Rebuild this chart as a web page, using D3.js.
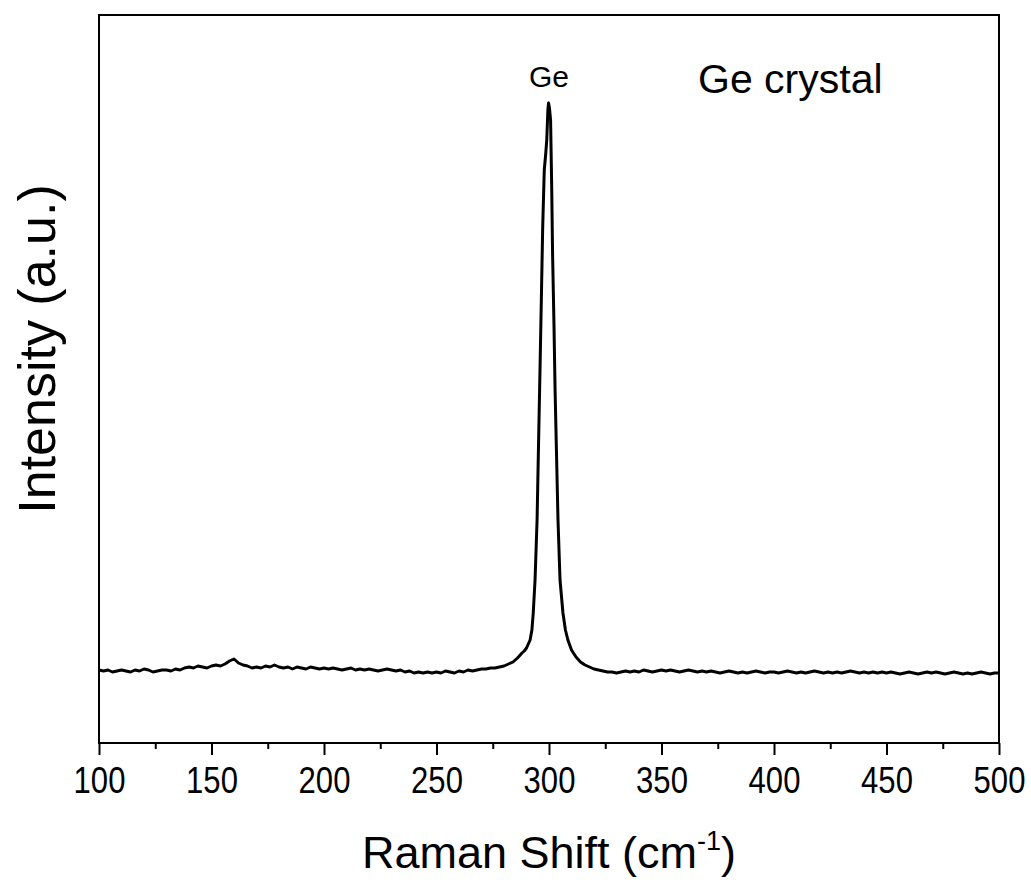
<!DOCTYPE html>
<html>
<head>
<meta charset="utf-8">
<script src="https://cdn.jsdelivr.net/npm/d3@7"></script>
<style>
  body { margin: 0; background: #fff; }
  svg text { font-family: "Liberation Sans", Arial, sans-serif; fill: #000; }
</style>
</head>
<body>
<svg class="main" width="1031" height="888"></svg>
<script>
// Raman spectrum of Ge crystal (intensity in a.u.)
var SHIFT = [
  100, 102, 104, 106, 108, 110, 112, 114, 116, 118, 120, 122, 124, 126, 128, 130, 132, 134, 136, 138,
  140, 142, 144, 146, 148, 150, 152, 154, 156, 158, 160, 162, 164, 166, 168, 170, 172, 174, 176, 178,
  180, 182, 184, 186, 188, 190, 192, 194, 196, 198, 200, 202, 204, 206, 208, 210, 212, 214, 216, 218,
  220, 222, 224, 226, 228, 230, 232, 234, 236, 238, 240, 242, 244, 246, 248, 250, 252, 254, 256, 258,
  260, 262, 264, 266, 268, 270, 272, 274, 276, 278, 280, 282, 284, 286, 288, 289, 290, 291, 291.6, 292.4,
  293, 293.8, 294.7, 295.3, 296, 296.7, 297.2, 297.9, 298.5, 299, 299.5, 299.8, 300.2, 300.7, 301.2, 301.6, 302.2, 302.7, 303.3, 304,
  304.9, 306.2, 307.3, 308.4, 310, 312, 314, 316, 318, 320, 322, 324, 326, 328, 330, 332, 334, 336, 338, 340,
  342, 344, 346, 348, 350, 352, 354, 356, 358, 360, 362, 364, 366, 368, 370, 372, 374, 376, 378, 380,
  382, 384, 386, 388, 390, 392, 394, 396, 398, 400, 402, 404, 406, 408, 410, 412, 414, 416, 418, 420,
  422, 424, 426, 428, 430, 432, 434, 436, 438, 440, 442, 444, 446, 448, 450, 452, 454, 456, 458, 460,
  462, 464, 466, 468, 470, 472, 474, 476, 478, 480, 482, 484, 486, 488, 490, 492, 494, 496, 498, 500
];
var INTENSITY = [
  73, 72, 73, 71, 72, 73, 72, 71, 73, 72, 74, 73, 71, 72, 73, 73, 72, 74, 73, 75,
  76, 75, 77, 76, 75, 77, 78, 77, 79, 82, 84, 80, 78, 77, 75, 76, 75, 77, 76, 78,
  76, 75, 76, 74, 76, 75, 74, 76, 75, 74, 75, 74, 75, 74, 73, 74, 75, 73, 74, 73,
  74, 73, 72, 73, 74, 73, 72, 73, 71, 72, 70, 71, 70, 71, 70, 71, 70, 72, 71, 70,
  72, 71, 73, 72, 73, 74, 74, 75, 75, 76, 77, 79, 81, 85, 90, 92, 95, 100, 103, 113,
  130, 163, 223, 293, 373, 456, 516, 573, 588, 603, 633, 640, 635, 623, 556, 488, 420, 353, 293, 223,
  163, 130, 113, 103, 93, 86, 81, 78, 76, 74, 73, 72, 71, 71, 70, 71, 72, 71, 72, 71,
  73, 72, 71, 72, 73, 72, 73, 72, 71, 72, 73, 72, 71, 72, 71, 72, 71, 70, 71, 72,
  71, 70, 71, 70, 71, 72, 71, 70, 71, 71, 70, 71, 72, 71, 70, 71, 70, 71, 72, 71,
  70, 71, 70, 71, 70, 71, 72, 71, 70, 71, 70, 71, 70, 71, 70, 71, 70, 69, 70, 71,
  70, 69, 70, 71, 70, 71, 70, 69, 70, 71, 70, 69, 70, 69, 70, 71, 70, 69, 70, 70
];
var X_TICKS = [100, 150, 200, 250, 300, 350, 400, 450, 500];
var X_MINOR = [125, 175, 225, 275, 325, 375, 425, 475];

var margin = { left: 99, top: 15, right: 999, bottom: 743 };

var svg = d3.select("svg.main");

var x = d3.scaleLinear().domain([100, 500]).range([margin.left, margin.right]);
var y = d3.scaleLinear().domain([0, 728]).range([margin.bottom, margin.top]);

// frame
svg.append("rect")
  .attr("x", margin.left)
  .attr("y", margin.top)
  .attr("width", margin.right - margin.left)
  .attr("height", margin.bottom - margin.top)
  .attr("fill", "none")
  .attr("stroke", "#000")
  .attr("stroke-width", 2);

// minor ticks
svg.append("g")
  .attr("transform", "translate(0," + margin.bottom + ")")
  .call(d3.axisBottom(x).tickValues(X_MINOR).tickSize(6).tickFormat(""))
  .call(function(g) { g.select(".domain").remove(); })
  .selectAll("line").attr("stroke-width", 2);

// major ticks + labels
var xAxis = svg.append("g")
  .attr("transform", "translate(0," + margin.bottom + ")")
  .call(d3.axisBottom(x).tickValues(X_TICKS).tickSize(12).tickFormat(d3.format("d")));
xAxis.select(".domain").remove();
xAxis.selectAll("line").attr("stroke-width", 2);
xAxis.selectAll("text")
  .attr("y", 50)
  .attr("dy", null)
  .attr("transform", "scale(0.84,1)")
  .style("font-size", "37px")
  .style("font-family", "'Liberation Sans', Arial, sans-serif")
  .attr("fill", "#000");

// spectrum
var line = d3.line()
  .x(function(d, i) { return x(SHIFT[i]); })
  .y(function(d) { return y(d); });

svg.append("path")
  .datum(INTENSITY)
  .attr("d", line)
  .attr("fill", "none")
  .attr("stroke", "#000")
  .attr("stroke-width", 3)
  .attr("stroke-linejoin", "round");

// labels
svg.append("text")
  .attr("x", x(300))
  .attr("y", 87)
  .attr("text-anchor", "middle")
  .style("font-size", "30px")
  .text("Ge");

svg.append("text")
  .attr("x", 698)
  .attr("y", 93)
  .style("font-size", "41px")
  .text("Ge crystal");

var xt = svg.append("text")
  .attr("x", (margin.left + margin.right) / 2)
  .attr("y", 868)
  .attr("text-anchor", "middle")
  .style("font-size", "45px");
xt.append("tspan").text("Raman Shift (cm");
xt.append("tspan").attr("dy", -18).style("font-size", "27px").text("-1");
xt.append("tspan").attr("dy", 18).text(")");

svg.append("text")
  .attr("transform", "translate(55,349) rotate(-90)")
  .attr("text-anchor", "middle")
  .style("font-size", "52px")
  .text("Intensity (a.u.)");
</script>
</body>
</html>
